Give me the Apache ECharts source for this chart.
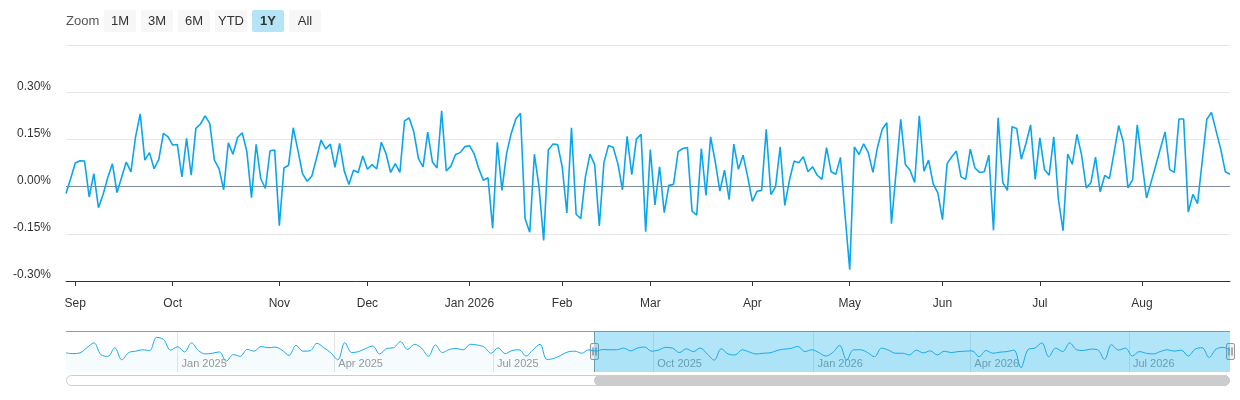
<!DOCTYPE html>
<html>
<head>
<meta charset="utf-8">
<script src="https://cdn.jsdelivr.net/npm/echarts@6/dist/echarts.min.js"></script>
<style>
html, body { margin: 0; padding: 0; background: #fff; }
#chart { width: 1240px; height: 400px; }
</style>
</head>
<body>
<div id="chart"></div>
<script>
// trading calendar of the visible year
var startDate = '2025-08-28';
var endDate = '2026-08-28';
var holidays = ['2025-09-01', '2025-11-27', '2025-12-25', '2026-01-01', '2026-01-19',
                '2026-02-16', '2026-04-03', '2026-05-25', '2026-06-19', '2026-07-03'];

// daily change in %, one value per trading day
var returns = [
  -0.022, 0.025, 0.075, 0.082, 0.081, -0.033, 0.041, -0.067, -0.025, 0.028,
  0.073, -0.019, 0.030, 0.078, 0.047, 0.158, 0.231, 0.084, 0.108, 0.057,
  0.086, 0.169, 0.158, 0.132, 0.134, 0.031, 0.153, 0.036, 0.185, 0.199,
  0.225, 0.201, 0.084, 0.057, -0.010, 0.139, 0.103, 0.156, 0.171, 0.111,
  -0.035, 0.134, 0.025, -0.006, 0.114, 0.116, -0.124, 0.059, 0.068, 0.187,
  0.116, 0.041, 0.017, 0.033, 0.089, 0.148, 0.120, 0.135, 0.061, 0.137,
  0.050, 0.007, 0.052, 0.045, 0.097, 0.055, 0.070, 0.056, 0.141, 0.105,
  0.045, 0.073, 0.045, 0.209, 0.218, 0.174, 0.089, 0.063, 0.173, 0.079,
  0.059, 0.241, 0.050, 0.065, 0.102, 0.108, 0.127, 0.130, 0.105, 0.057,
  0.020, 0.028, -0.132, 0.141, -0.012, 0.105, 0.169, 0.215, 0.233, -0.102,
  -0.145, 0.103, -0.001, -0.171, 0.116, 0.135, 0.134, 0.063, -0.084, 0.187,
  -0.088, -0.102, 0.031, 0.103, 0.070, -0.125, 0.077, 0.131, 0.124, 0.073,
  -0.010, 0.160, 0.038, 0.151, 0.166, -0.143, 0.118, -0.058, 0.063, -0.083,
  0.004, 0.007, 0.111, 0.121, 0.124, -0.078, -0.091, 0.121, -0.028, 0.158,
  0.079, -0.014, 0.052, -0.041, 0.135, 0.055, 0.100, 0.031, -0.047, -0.015,
  -0.012, 0.182, -0.025, -0.001, 0.126, -0.060, 0.020, 0.081, 0.076, 0.095,
  0.047, 0.063, 0.036, 0.023, 0.124, 0.047, 0.039, 0.093, -0.092, -0.264,
  0.126, 0.102, 0.136, 0.108, 0.045, 0.126, 0.182, 0.203, -0.118, 0.047,
  0.214, 0.070, 0.052, 0.013, 0.225, 0.049, 0.084, 0.009, -0.020, -0.105,
  0.073, 0.095, 0.113, 0.031, 0.023, 0.119, 0.059, 0.045, 0.047, 0.100,
  -0.139, 0.219, 0.013, -0.012, 0.190, 0.185, 0.087, 0.137, 0.196, 0.023,
  0.155, 0.054, 0.036, 0.158, -0.041, -0.140, 0.103, 0.071, 0.166, 0.100,
  -0.004, 0.012, 0.094, -0.017, 0.036, 0.025, 0.108, 0.194, 0.142, -0.004,
  0.022, 0.196, 0.079, -0.036, 0.015, 0.068, 0.121, 0.174, 0.054, 0.045,
  0.215, 0.215, -0.081, -0.025, -0.054, 0.079, 0.214, 0.236, 0.177, 0.119,
  0.047, 0.039
];

// navigator: grouped series, one value every 4 days from navStart
var navStart = '2024-10-29';
var navStepDays = 4;
var navValues = [
  -0.027, -0.036, -0.027, 0.036, 0.095, -0.048, -0.069, 0.036, -0.111, -0.023,
  -0.006, 0.011, 0.002, 0.162, 0.137, 0.006, 0.048, -0.015, 0.095, 0.002,
  -0.040, -0.031, -0.015, -0.128, -0.048, -0.069, 0.015, -0.006, 0.053, 0.036,
  0.044, 0.006, -0.057, 0.065, -0.006, -0.002, 0.090, 0.036, -0.027, -0.111,
  0.099, -0.023, -0.010, 0.027, 0.057, -0.040, 0.027, 0.036, 0.111, 0.015,
  0.078, 0.032, -0.069, 0.069, -0.023, 0.015, 0.027, 0.011, 0.078, 0.069,
  0.044, -0.031, 0.036, -0.036, 0.002, 0.011, -0.065, 0.011, 0.078, -0.107,
  -0.094, -0.057, -0.015, -0.006, -0.031, 0.011, -0.006, 0.014, 0.011, 0.011,
  0.032, -0.002, 0.032, 0.045, -0.006, 0.007, 0.040, 0.032, -0.023, 0.023,
  -0.011, 0.032, -0.040, -0.115, 0.023, -0.040, -0.052, 0.011, -0.015, -0.040,
  -0.031, -0.027, 0.002, 0.019, 0.027, 0.052, -0.011, 0.011, -0.023, -0.065,
  -0.023, 0.065, -0.115, 0.011, 0.011, -0.023, -0.074, 0.032, 0.007, -0.031,
  -0.031, -0.052, 0.007, -0.027, -0.002, -0.052, -0.006, -0.023, -0.011, -0.006,
  -0.002, -0.074, 0.002, -0.031, -0.018, -0.011, 0.007, -0.207, 0.011, 0.032,
  0.095, -0.074, 0.032, -0.011, 0.095, 0.011, 0.002, 0.019, 0.011, -0.107,
  0.074, 0.007, 0.032, -0.065, -0.011, -0.031, -0.040, -0.011, 0.011, -0.006,
  0.007, -0.065, 0.019, 0.036, -0.082, 0.019, 0.040, 0.011
];
var navTickDates = ['2025-01-01', '2025-04-01', '2025-07-01', '2025-10-01',
                    '2026-01-01', '2026-04-01', '2026-07-01'];

var monthNames = ['Jan', 'Feb', 'Mar', 'Apr', 'May', 'Jun', 'Jul', 'Aug', 'Sep', 'Oct', 'Nov', 'Dec'];
var zoomButtons = ['1M', '3M', '6M', 'YTD', '1Y', 'All'];
var selectedButton = '1Y';

var DAY = 86400000;
function ms(s) { return Date.parse(s + 'T00:00:00Z'); }
function iso(t) { return new Date(t).toISOString().slice(0, 10); }

function tradingDays(from, to) {
  var out = [];
  for (var t = ms(from); t <= ms(to); t += DAY) {
    var wd = new Date(t).getUTCDay();
    if (wd === 0 || wd === 6) continue;
    if (holidays.indexOf(iso(t)) >= 0) continue;
    out.push(iso(t));
  }
  return out;
}

var dates = tradingDays(startDate, endDate);
var navStartMs = ms(navStart);
var navData = navValues.map(function (v, k) { return [navStartMs + k * navStepDays * DAY, v]; });
var navEndMs = navData[navData.length - 1][0];
var selStartMs = ms(startDate);
var navTicks = navTickDates.map(ms);

function isMonthStart(idx) {
  return idx > 0 && dates[idx].slice(5, 7) !== dates[idx - 1].slice(5, 7);
}

var font = 'Liberation Sans, Arial, Helvetica, sans-serif';
var chart = echarts.init(document.getElementById('chart'));

var option = {
  animation: false,
  textStyle: { fontFamily: font },
  grid: [
    { left: 66, right: 10, top: 45, height: 236 },
    { left: 66, right: 10, top: 331, height: 41 }
  ],
  xAxis: [
    {
      type: 'category', gridIndex: 0, data: dates, boundaryGap: false,
      axisLine: { onZero: false, lineStyle: { color: '#333', width: 1 } },
      axisTick: { length: 5, interval: isMonthStart, lineStyle: { color: '#333' } },
      axisLabel: {
        interval: isMonthStart, color: '#333', fontSize: 12, margin: 17,
        formatter: function (v) {
          var m = +v.slice(5, 7);
          return monthNames[m - 1] + (m === 1 ? ' ' + v.slice(0, 4) : '');
        }
      },
      splitLine: { show: false }
    },
    {
      // navigator axis: timestamps on a value scale, ticks at quarter starts
      type: 'value', gridIndex: 1, min: navStartMs, max: navEndMs,
      axisLine: { show: false },
      axisTick: { show: false, customValues: navTicks },
      axisLabel: {
        inside: true, customValues: navTicks, color: '#999', fontSize: 11,
        align: 'left', margin: 3, padding: [0, 0, 0, 4],
        formatter: function (v) {
          var d = new Date(v);
          return monthNames[d.getUTCMonth()] + ' ' + d.getUTCFullYear();
        }
      },
      splitLine: { show: true, lineStyle: { color: '#e6e6e6' } }
    }
  ],
  yAxis: [
    {
      type: 'value', gridIndex: 0, min: -0.3, max: 0.45, interval: 0.15,
      axisLine: { show: false }, axisTick: { show: false },
      axisLabel: {
        color: '#333', fontSize: 12, margin: 15, verticalAlign: 'bottom',
        formatter: function (v) { return v > 0.44 ? '' : v.toFixed(2) + '%'; }
      },
      splitLine: {
        lineStyle: { color: ['#e6e6e6', '#e6e6e6', '#7f8c99', '#e6e6e6', '#e6e6e6', '#e6e6e6'], width: 1 }
      }
    },
    { type: 'value', gridIndex: 1, min: -0.26, max: 0.24, show: false }
  ],
  series: [
    {
      type: 'line', xAxisIndex: 0, yAxisIndex: 0, data: returns,
      symbol: 'none', z: 3,
      lineStyle: { color: '#0ba5ec', width: 1.6 }
    },
    {
      type: 'line', xAxisIndex: 1, yAxisIndex: 1, data: navData,
      symbol: 'none', smooth: 0.35,
      lineStyle: { color: '#19a9ea', width: 1 },
      areaStyle: { color: 'rgba(0,168,232,0.05)', origin: 'start' },
      markArea: {
        silent: true,
        itemStyle: { color: 'rgba(0,168,232,0.3)' },
        data: [[{ xAxis: selStartMs }, { xAxis: navEndMs }]]
      }
    }
  ]
};
chart.setOption(option);

// range selector, navigator outline, handles and scrollbar
var xa = chart.convertToPixel({ xAxisIndex: 1 }, selStartMs);
var xb = chart.convertToPixel({ xAxisIndex: 1 }, navEndMs);
var navLeft = chart.convertToPixel({ xAxisIndex: 1 }, navStartMs);

var elements = [];
elements.push({
  type: 'text', x: 66, y: 21,
  style: { text: 'Zoom', fill: '#555', font: '13px ' + font, verticalAlign: 'middle' }
});
zoomButtons.forEach(function (b, i) {
  var sel = b === selectedButton;
  var bx = 104 + i * 37;
  elements.push({
    type: 'rect', shape: { x: bx, y: 10, width: 32, height: 22, r: 2 },
    style: { fill: sel ? '#b5e4f6' : '#f7f7f7' }
  });
  elements.push({
    type: 'text', x: bx + 16, y: 21,
    style: { text: b, fill: '#333', font: (sel ? 'bold ' : '') + '13px ' + font,
             align: 'center', verticalAlign: 'middle' }
  });
});

elements.push({
  type: 'polyline',
  shape: { points: [[navLeft, 331.5], [Math.round(xa) + 0.5, 331.5], [Math.round(xa) + 0.5, 372],
                    [Math.round(xa) + 0.5, 331.5], [xb, 331.5]] },
  style: { stroke: '#999', lineWidth: 1, fill: null }
});

function handle(x) {
  var cx = Math.round(x) + 0.5;
  return {
    type: 'group', children: [
      { type: 'rect', shape: { x: cx - 4, y: 343.5, width: 8, height: 16, r: 1.5 },
        style: { fill: '#f2f2f2', stroke: '#999', lineWidth: 1 } },
      { type: 'line', shape: { x1: cx - 1.5, y1: 347.5, x2: cx - 1.5, y2: 355.5 },
        style: { stroke: '#666', lineWidth: 1 } },
      { type: 'line', shape: { x1: cx + 1.5, y1: 347.5, x2: cx + 1.5, y2: 355.5 },
        style: { stroke: '#666', lineWidth: 1 } }
    ]
  };
}
elements.push(handle(xa));
elements.push(handle(xb));

elements.push({
  type: 'rect', shape: { x: navLeft + 0.5, y: 375.5, width: xb - navLeft - 1, height: 10, r: 5 },
  style: { fill: '#fff', stroke: '#cccccc', lineWidth: 1 }
});
elements.push({
  type: 'rect', shape: { x: xa + 0.5, y: 375.5, width: xb - xa - 1, height: 10, r: 5 },
  style: { fill: '#cccccc', stroke: '#cccccc', lineWidth: 1 }
});

chart.setOption({ graphic: { elements: elements } });
</script>
</body>
</html>
